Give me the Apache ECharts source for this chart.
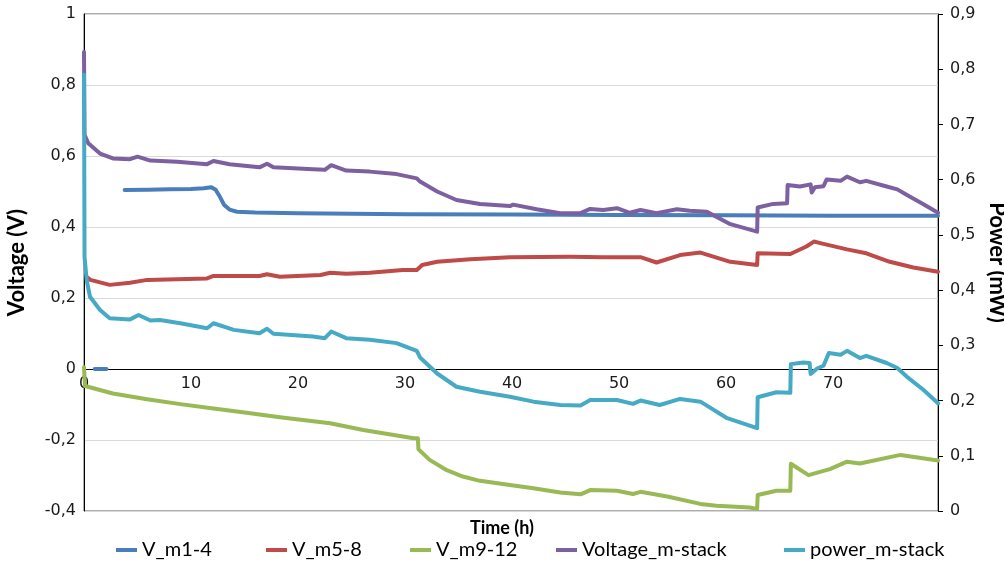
<!DOCTYPE html>
<html>
<head>
<meta charset="utf-8">
<script src="https://cdn.jsdelivr.net/npm/echarts@6/dist/echarts.min.js"></script>
<style>
  html, body { margin: 0; padding: 0; background: #fff; }
  #chart { width: 1004px; height: 569px; }
</style>
</head>
<body>
<div id="chart"></div>
<script>
// Stack test: module voltages (left axis, V) and stack power (right axis, mW) over time (h)
const seriesNames = ['V_m1-4', 'V_m5-8', 'V_m9-12', 'Voltage_m-stack', 'power_m-stack'];
const seriesColors = ['#4A7EBB', '#BE4B48', '#98B954', '#7D60A0', '#46AAC5'];

// V_m1-4 (null = no reading, breaks the line)
const tM1 = [1.0, 2.1, 3.0, 3.8, 6, 8, 10, 11.2, 11.9, 12.3, 12.7, 13.1, 13.6, 14.3, 16, 20, 25, 30, 40, 50, 60, 70, 79.8];
const vM1 = [0, 0, null, 0.504, 0.505, 0.506, 0.507, 0.509, 0.512, 0.505, 0.485, 0.462, 0.449, 0.443, 0.441, 0.439, 0.437, 0.436, 0.435, 0.434, 0.433, 0.432, 0.432];

// V_m5-8
const tM5 = [0.3, 0.6, 2.4, 4.3, 5.9, 11.5, 12.1, 16.4, 17.1, 18.3, 22.1, 23.0, 24.5, 26.7, 29.8, 31.1, 31.6, 33.0, 36.1, 39.8, 45.4, 48.5, 52.0, 53.5, 55.7, 57.6, 60.4, 62.9, 62.95, 66.0, 67.5, 68.2, 68.9, 71.3, 73.1, 75.3, 77.5, 79.8];
const vM5 = [0.258, 0.251, 0.237, 0.243, 0.251, 0.255, 0.262, 0.262, 0.267, 0.260, 0.265, 0.271, 0.268, 0.271, 0.279, 0.279, 0.293, 0.302, 0.309, 0.315, 0.316, 0.315, 0.315, 0.300, 0.321, 0.328, 0.302, 0.293, 0.326, 0.324, 0.345, 0.359, 0.354, 0.337, 0.326, 0.302, 0.286, 0.274];

// V_m9-12
const tM9 = [0, 0.1, 2.7, 5.9, 9.0, 12.1, 15.2, 18.3, 23.0, 26.1, 30.8, 31.2, 31.25, 32.3, 33.9, 35.4, 37.0, 39.8, 42.0, 44.5, 46.4, 47.3, 49.8, 51.3, 52.0, 54.5, 57.6, 59.1, 62.2, 62.9, 62.95, 64.7, 66.0, 66.05, 67.7, 69.7, 71.3, 72.5, 76.3, 79.8];
const vM9 = [0.005, -0.048, -0.069, -0.085, -0.099, -0.111, -0.123, -0.136, -0.153, -0.172, -0.195, -0.195, -0.226, -0.256, -0.285, -0.303, -0.315, -0.327, -0.336, -0.348, -0.353, -0.341, -0.343, -0.352, -0.346, -0.359, -0.380, -0.385, -0.390, -0.394, -0.355, -0.343, -0.343, -0.267, -0.299, -0.282, -0.261, -0.266, -0.242, -0.258];

// Voltage_m-stack
const tStack = [0, 0.05, 0.4, 1.5, 2.7, 4.3, 5.0, 6.2, 8.7, 11.5, 12.1, 13.6, 16.4, 17.1, 17.7, 21.4, 22.5, 23.1, 24.5, 26.7, 29.2, 31.1, 31.4, 33.0, 34.8, 37.0, 39.8, 40.1, 42.3, 44.5, 46.4, 47.3, 48.5, 49.8, 51.0, 52.0, 53.5, 55.4, 56.6, 58.2, 60.4, 62.9, 62.95, 64.4, 65.7, 65.75, 66.9, 67.9, 68.0, 68.3, 69.1, 69.4, 70.7, 71.3, 72.5, 73.1, 75.0, 76.0, 76.9, 78.4, 79.8];
const vStack = [0.893, 0.66, 0.636, 0.607, 0.593, 0.591, 0.598, 0.587, 0.584, 0.577, 0.586, 0.577, 0.568, 0.578, 0.568, 0.563, 0.561, 0.574, 0.559, 0.556, 0.549, 0.537, 0.528, 0.500, 0.476, 0.465, 0.459, 0.463, 0.450, 0.439, 0.439, 0.451, 0.448, 0.453, 0.440, 0.448, 0.439, 0.450, 0.446, 0.443, 0.408, 0.387, 0.455, 0.465, 0.467, 0.518, 0.514, 0.520, 0.497, 0.512, 0.515, 0.534, 0.530, 0.542, 0.526, 0.530, 0.514, 0.506, 0.490, 0.465, 0.440];

// power_m-stack (mW, right axis)
const tPower = [0, 0.05, 0.25, 0.56, 1.5, 2.4, 4.3, 5.1, 6.2, 7.1, 9.0, 11.5, 12.1, 14.0, 16.4, 17.1, 17.7, 21.4, 22.5, 23.1, 24.5, 26.7, 29.2, 31.1, 31.4, 33.0, 34.8, 37.0, 39.8, 42.0, 44.5, 46.4, 47.3, 49.8, 51.3, 52.0, 53.8, 55.7, 57.6, 60.1, 62.9, 62.95, 64.7, 66.0, 66.05, 67.2, 67.8, 67.9, 68.5, 69.1, 69.6, 70.7, 71.3, 72.5, 73.1, 75.0, 76.0, 76.9, 78.4, 79.8];
const pPower = [0.790, 0.46, 0.418, 0.388, 0.364, 0.349, 0.347, 0.355, 0.345, 0.346, 0.340, 0.331, 0.340, 0.328, 0.322, 0.330, 0.321, 0.316, 0.313, 0.325, 0.313, 0.310, 0.304, 0.290, 0.278, 0.249, 0.225, 0.216, 0.207, 0.198, 0.192, 0.191, 0.201, 0.201, 0.194, 0.200, 0.192, 0.203, 0.198, 0.168, 0.150, 0.206, 0.215, 0.214, 0.266, 0.269, 0.268, 0.248, 0.258, 0.263, 0.286, 0.283, 0.290, 0.277, 0.281, 0.268, 0.259, 0.243, 0.220, 0.195];

// Axis ticks
const voltTicks = { min: -0.4, max: 1, interval: 0.2 };
const powerTicks = { min: 0, max: 0.9, interval: 0.1 };
const timeTicks = { min: 0, max: 79.8, interval: 10 };

const zip = (xs, ys) => xs.map((x, i) => [x, ys[i]]);
const comma = v => String(parseFloat(v.toFixed(1))).replace('.', ',');

// plot box in pixels
const box = { left: 84, right: 66, top: 14, bottom: 58, width: 1004 - 84 - 66, height: 569 - 14 - 58 };
// the time axis sits on the 0 V line
const zeroOffset = -box.height * (0 - voltTicks.min) / (voltTicks.max - voltTicks.min);

const labelFont = { fontFamily: 'DejaVu Sans', fontSize: 16, color: '#1a1a1a' };
const titleFont = 'Lato';
const axisNameStyle = { fontFamily: titleFont, fontWeight: 'bold', fontSize: 22, color: '#000' };

const chart = echarts.init(document.getElementById('chart'), null, { renderer: 'canvas' });

const pairs = [
  zip(tM1, vM1), zip(tM5, vM5), zip(tM9, vM9), zip(tStack, vStack), zip(tPower, pPower)
];

const legendLefts = [116, 266, 410, 556, 784];

chart.setOption({
  animation: false,
  backgroundColor: '#ffffff',
  color: seriesColors,
  title: {
    text: 'Time (h)',
    left: 'center',
    top: 514,
    textStyle: { fontFamily: titleFont, fontWeight: 'bold', fontSize: 18, color: '#000' }
  },
  legend: seriesNames.map((name, i) => ({
    data: [name],
    left: legendLefts[i],
    top: 540,
    padding: 0,
    icon: 'rect',
    itemWidth: 21,
    itemHeight: 4,
    textStyle: { fontFamily: titleFont, fontSize: 20, color: '#000' }
  })),
  grid: {
    left: box.left, right: box.right, top: box.top, bottom: box.bottom,
    outerBoundsMode: 'none',
    containLabel: false,
    show: true, borderColor: '#5a5a5a', borderWidth: 1
  },
  xAxis: {
    type: 'value',
    min: timeTicks.min, max: timeTicks.max, interval: timeTicks.interval,
    offset: zeroOffset,
    axisLine: { show: true, onZero: false, lineStyle: { color: '#000', width: 1 } },
    axisTick: { show: false },
    splitLine: { show: false },
    axisLabel: {
      ...labelFont, margin: 7, showMaxLabel: false,
      formatter: v => (Math.abs(v % 10) < 1e-6 ? String(v) : '')
    }
  },
  yAxis: [
    {
      type: 'value',
      min: voltTicks.min, max: voltTicks.max, interval: voltTicks.interval,
      name: 'Voltage (V)', nameLocation: 'middle', nameRotate: 90, nameGap: 56,
      nameTextStyle: axisNameStyle,
      axisLine: { show: true, onZero: false, lineStyle: { color: '#000', width: 1 } },
      axisTick: { show: false },
      splitLine: { show: true, lineStyle: { color: '#d9d9d9', width: 1 } },
      axisLabel: { ...labelFont, margin: 8, formatter: comma }
    },
    {
      type: 'value',
      min: powerTicks.min, max: powerTicks.max, interval: powerTicks.interval,
      position: 'right',
      name: 'Power (mW)', nameLocation: 'middle', nameRotate: -90, nameGap: 38,
      nameTextStyle: axisNameStyle,
      axisLine: { show: true, onZero: false, lineStyle: { color: '#000', width: 1 } },
      axisTick: { show: true, inside: false, length: 5, lineStyle: { color: '#000' } },
      splitLine: { show: false },
      axisLabel: { ...labelFont, margin: 12, formatter: comma }
    }
  ],
  series: seriesNames.map((name, i) => ({
    name,
    type: 'line',
    yAxisIndex: i === 4 ? 1 : 0,
    data: pairs[i],
    showSymbol: false,
    symbol: 'none',
    connectNulls: false,
    lineStyle: { width: 4, color: seriesColors[i], join: 'round', cap: 'round' },
    itemStyle: { color: seriesColors[i] },
    z: 2 + i
  }))
});
</script>
</body>
</html>
